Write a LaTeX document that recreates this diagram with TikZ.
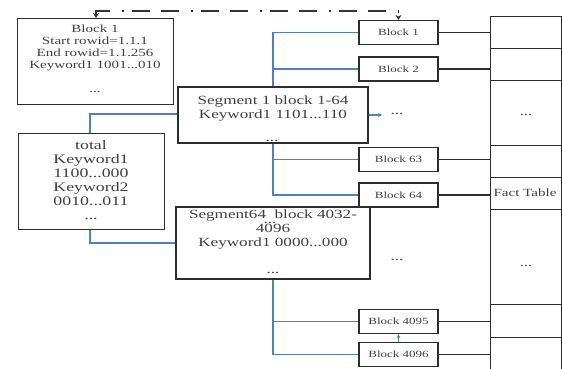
\documentclass[tikz,border=0pt]{standalone}
\usepackage{fontspec}
\setmainfont{Liberation Serif}[FakeStretch=1.37]
\usetikzlibrary{arrows.meta}
\definecolor{lnblue}{RGB}{79,129,189}
\definecolor{edgec}{RGB}{45,45,45}
\tikzset{
  box/.style={draw=edgec, line width=1.2pt, inner sep=0pt, fill=white},
  blk/.style={box, minimum width=79pt, minimum height=24pt, text=black!75, font=\fontsize{9.5}{11}\selectfont},
  cell/.style={draw=edgec, line width=1.1pt, inner sep=0pt, minimum width=71pt, anchor=north west},
  bl/.style={draw=lnblue, line width=1.1pt},
  conn/.style={draw=edgec, line width=1.1pt},
  txt/.style={text=black!75, align=center, inner sep=0pt},
  dashdotarrow/.style={draw=black!80, line width=1.2pt, dash pattern=on 18pt off 11pt on 18pt off 12pt on 2pt off 8pt, dash phase=29pt, {Stealth[length=5pt,width=6pt]}-{Stealth[length=5pt,width=6pt]}}
}
\begin{document}
\begin{tikzpicture}[x=1pt,y=-1pt]
\useasboundingbox (0,0) rectangle (562,369);
\clip (0,0) rectangle (562,369);

% Fact table cells
\node[cell, minimum height=32pt] (r1) at (490,16) {};
\node[cell, minimum height=32pt] (r2) at (490,48) {};
\node[cell, minimum height=65pt] (r3) at (490,80) {};
\node[cell, minimum height=32pt] (r4) at (490,145) {};
\node[cell, minimum height=32pt] (r5) at (490,177) {};
\node[cell, minimum height=95pt] (r6) at (490,209) {};
\node[cell, minimum height=33pt] (r7) at (490,304) {};
\node[cell, minimum height=40pt] (r8) at (490,337) {};
\node[txt, font=\fontsize{12}{13}\selectfont] (r3dots) at (526,115) {...};
\node[txt, font=\fontsize{11}{12}\selectfont] (ftl) at (525,193) {Fact Table};
\node[txt, font=\fontsize{12}{13}\selectfont] (r6dots) at (526,266) {...};

% Big Block 1
\node[box, minimum width=156pt, minimum height=86pt, anchor=north west] (bb) at (17,18) {};
\node[txt, anchor=north, font=\fontsize{11}{12}\selectfont] (bbtxt) at (95,24.5)
  {Block 1\\Start rowid=1.1.1\\End rowid=1.1.256\\Keyword1 1001...010\\[12pt]...};

% total
\node[box, minimum width=146pt, minimum height=96pt, anchor=north west] (tot) at (18,133) {};
\node[txt, anchor=north, font=\fontsize{13}{14}\selectfont] (tottxt) at (91,140)
  {total\\Keyword1\\1100...000\\Keyword2\\0010...011\\...};

% Segment 1
\node[box, minimum width=190pt, minimum height=56pt] (s1) at (273,115) {};
\node[txt, anchor=north, font=\fontsize{12.5}{14}\selectfont] (s1txt) at (273,95.5)
  {Segment 1 block 1-64\\Keyword1 1101...110};
\node[txt, font=\fontsize{12.5}{14}\selectfont] (s1dots) at (272,141) {...};

% Segment 64
\node[box, minimum width=194pt, minimum height=72pt] (s64) at (273,243) {};
\node[txt, anchor=north, font=\fontsize{12.5}{13.7}\selectfont] (s64txt) at (273,210)
  {Segment64\ \ block 4032-\\4096\\Keyword1 0000...000\\[13.7pt]...};
\node[txt, font=\fontsize{12.5}{14}\selectfont] (s64dots) at (270,222.5) {...};

% small blocks
\node[blk] (sb1) at (398.5,32.5) {Block 1};
\node[blk] (sb2) at (398.5,69) {Block 2};
\node[blk] (sb63) at (398.5,159.5) {Block 63};
\node[blk] (sb64) at (398.5,195) {Block 64};
\node[blk] (sb4095) at (398.5,321.5) {Block 4095};
\node[blk] (sb4096) at (398.5,354.5) {Block 4096};
\node[txt, font=\fontsize{12.5}{14}\selectfont] (middots) at (397,260) {...};
\node[txt, font=\fontsize{12.5}{14}\selectfont] (s1rdots) at (397,114) {...};

% blue connectors
\draw[bl] (sb1.west) -| (s1.north);
\draw[bl] (sb2.west) -- (sb2.west -| s1.north);
\draw[bl] (s1.south) |- (sb64.west);
\draw[bl] (sb63.west) -- (sb63.west -| s1.south);
\draw[bl] (s64.south) |- (sb4096.west);
\draw[bl] (sb4095.west) -- (sb4095.west -| s64.south);
\coordinate (tA) at (90,114);
\coordinate (tB) at (90,243);
\draw[bl] (tot.north -| tA) -- (tA) -- (s1.west |- tA);
\draw[bl] (tot.south -| tB) -- (tB) -- (s64.west |- tB);
\coordinate (s1arr) at (382,115);
\draw[bl, -{Stealth[length=4pt,width=4pt]}] (s1.east |- s1arr) -- (s1arr);
\draw[bl, -{Stealth[length=4pt,width=4pt]}] (sb4096.north) -- (sb4095.south);

% black connectors to fact table
\draw[conn] (sb1.east) -- (sb1.east -| r1.west);
\draw[conn] (sb2.east) -- (sb2.east -| r2.west);
\draw[conn] (sb63.east) -- (sb63.east -| r4.west);
\draw[conn] (sb64.east) -- (sb64.east -| r5.west);
\draw[conn] (sb4095.east) -- (sb4095.east -| r7.west);
\draw[conn] (sb4096.east) -- (sb4096.east -| r8.west);

% dash-dot arrow
\coordinate (dl) at (96,11);
\coordinate (dr) at (398.5,11);
\draw[dashdotarrow] (bb.north -| dl) -- (dl) -- (dr) -- (sb1.north -| dr);
\end{tikzpicture}
\end{document}
